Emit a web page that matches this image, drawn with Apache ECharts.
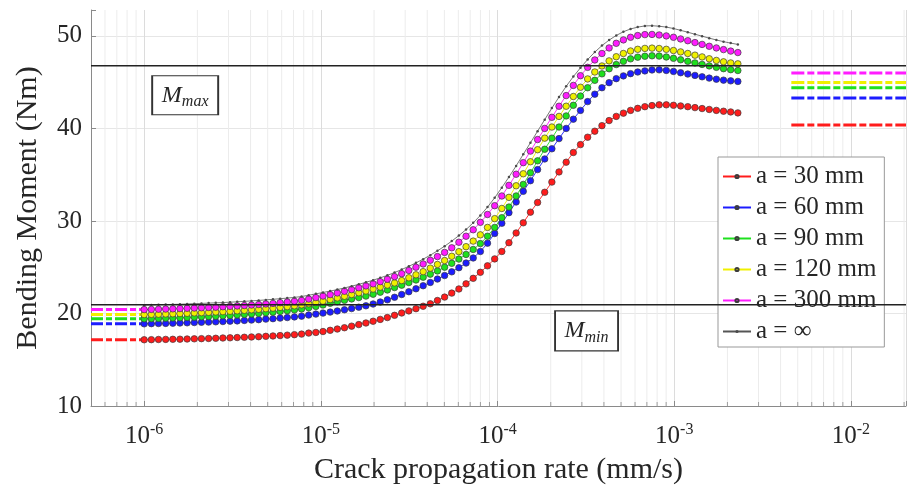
<!DOCTYPE html>
<html><head><meta charset="utf-8">
<script src="https://cdn.jsdelivr.net/npm/echarts@6/dist/echarts.min.js"></script>
<style>html,body{margin:0;padding:0;background:#fff}#c{width:915px;height:490px}</style>
</head><body><div id="c"></div>
<script>
// crack propagation rate (mm/s) of each computed point
const rates = [1.000e-6,1.098e-6,1.205e-6,1.323e-6,1.452e-6,1.594e-6,1.750e-6,1.921e-6,2.109e-6,2.315e-6,
2.541e-6,2.789e-6,3.062e-6,3.361e-6,3.689e-6,4.050e-6,4.445e-6,4.880e-6,5.356e-6,5.880e-6,
6.454e-6,7.085e-6,7.777e-6,8.533e-6,9.366e-6,1.028e-5,1.129e-5,1.239e-5,1.360e-5,1.493e-5,
1.639e-5,1.799e-5,1.975e-5,2.168e-5,2.379e-5,2.612e-5,2.867e-5,3.147e-5,3.454e-5,3.792e-5,
4.162e-5,4.569e-5,5.015e-5,5.505e-5,6.043e-5,6.633e-5,7.281e-5,7.993e-5,8.773e-5,9.630e-5,
1.057e-4,1.160e-4,1.274e-4,1.398e-4,1.535e-4,1.685e-4,1.849e-4,2.030e-4,2.228e-4,2.446e-4,
2.685e-4,2.947e-4,3.235e-4,3.551e-4,3.898e-4,4.279e-4,4.697e-4,5.156e-4,5.660e-4,6.213e-4,
6.820e-4,7.486e-4,8.217e-4,9.020e-4,9.901e-4,1.087e-3,1.193e-3,1.310e-3,1.438e-3,1.578e-3,
1.732e-3,1.901e-3,2.087e-3,2.291e-3];

const seriesNames = ['a = 30 mm','a = 60 mm','a = 90 mm','a = 120 mm','a = 300 mm','a = \u221E'];
const seriesColors = ['#ff1c1c','#1c1cff','#1ee01e','#f0f000','#ff1cff','#4a4a4a'];

const m30 = [17.16,17.17,17.19,17.2,17.21,17.22,17.24,17.26,17.28,17.3,17.32,17.35,17.37,17.4,17.43,17.46,17.49,17.53,17.57,17.61,17.66,17.71,17.77,
17.88,17.95,18.05,18.18,18.32,18.46,18.63,18.8,18.97,19.16,19.36,19.56,19.8,20.05,20.28,20.52,20.78,21.05,21.4,21.77,22.2,22.65,23.2,23.8,24.45,25.15,25.9,26.7,27.65,28.7,29.8,30.95,32.0,33.1,34.2,35.3,36.35,37.4,38.25,39.05,39.7,40.3,40.85,41.3,41.65,41.95,42.17,42.35,42.47,42.55,42.55,42.5,42.43,42.35,42.25,42.15,42.05,41.95,41.86,41.78,41.68];
const m60 = [18.88,18.9,18.92,18.93,18.95,18.97,18.99,19.02,19.05,19.07,19.1,19.13,19.17,19.2,19.25,19.29,19.33,19.39,19.44,19.5,19.56,19.63,19.71,
19.83,19.93,20.04,20.15,20.27,20.4,20.53,20.68,20.83,21.02,21.24,21.48,21.75,22.05,22.35,22.67,23.0,23.35,23.72,24.1,24.5,24.95,25.45,26.0,26.7,27.6,28.65,29.75,30.9,32.05,33.2,34.35,35.55,36.7,37.8,38.9,40.0,41.0,41.95,42.9,43.7,44.4,44.95,45.38,45.68,45.92,46.1,46.22,46.32,46.33,46.27,46.16,46.02,45.88,45.73,45.58,45.44,45.32,45.22,45.14,45.08];
const m90 = [19.42,19.44,19.47,19.49,19.51,19.53,19.57,19.6,19.64,19.67,19.7,19.75,19.79,19.84,19.9,19.95,20.01,20.08,20.14,20.22,20.3,20.39,20.49,
20.62,20.76,20.92,21.1,21.27,21.42,21.57,21.72,21.88,22.08,22.3,22.54,22.8,23.06,23.34,23.62,23.92,24.25,24.6,25.0,25.42,25.88,26.38,26.92,27.55,28.35,29.3,30.35,31.5,32.7,33.95,35.2,36.5,37.75,38.95,40.15,41.35,42.5,43.5,44.4,45.2,45.9,46.45,46.9,47.25,47.52,47.7,47.8,47.85,47.82,47.72,47.58,47.42,47.25,47.08,46.92,46.76,46.6,46.46,46.35,46.26];
const m120 = [19.88,19.9,19.92,19.95,19.97,19.99,20.02,20.06,20.09,20.12,20.16,20.2,20.24,20.29,20.34,20.4,20.45,20.52,20.58,20.66,20.74,20.83,20.93,
21.05,21.18,21.33,21.5,21.68,21.86,22.05,22.24,22.43,22.64,22.85,23.07,23.3,23.56,23.86,24.18,24.52,24.9,25.3,25.72,26.18,26.68,27.22,27.82,28.5,29.3,30.25,31.35,32.55,33.8,35.1,36.4,37.7,38.95,40.15,41.3,42.4,43.45,44.45,45.35,46.1,46.75,47.3,47.75,48.1,48.37,48.55,48.65,48.68,48.64,48.55,48.42,48.27,48.1,47.92,47.73,47.53,47.35,47.2,47.08,46.98];
const m300 = [20.42,20.44,20.46,20.48,20.5,20.53,20.56,20.59,20.62,20.65,20.68,20.73,20.77,20.81,20.86,20.91,20.97,21.03,21.09,21.17,21.24,21.32,21.42,
21.56,21.72,21.88,22.04,22.22,22.4,22.58,22.78,22.98,23.2,23.44,23.7,23.98,24.3,24.65,25.0,25.35,25.75,26.15,26.6,27.1,27.7,28.35,29.05,29.85,30.7,31.65,32.7,33.85,35.05,36.3,37.55,38.8,40.0,41.2,42.4,43.55,44.65,45.7,46.6,47.4,48.1,48.7,49.2,49.57,49.85,50.04,50.14,50.16,50.1,50.0,49.85,49.67,49.48,49.28,49.08,48.88,48.7,48.52,48.36,48.2];
const mInf = [20.9,20.92,20.94,20.96,20.98,21.0,21.03,21.06,21.09,21.12,21.15,21.18,21.22,21.26,21.31,21.36,21.41,21.47,21.53,21.6,21.66,21.74,21.83,
21.97,22.12,22.27,22.42,22.58,22.76,22.95,23.15,23.37,23.6,23.85,24.12,24.42,24.75,25.1,25.47,25.87,26.3,26.77,27.27,27.82,28.42,29.07,29.8,30.6,31.5,32.5,33.6,34.75,35.95,37.2,38.45,39.7,40.95,42.2,43.4,44.55,45.6,46.55,47.45,48.25,48.95,49.55,50.05,50.45,50.75,50.95,51.08,51.1,51.05,50.95,50.8,50.6,50.4,50.18,49.97,49.76,49.56,49.38,49.22,49.08];

// horizontal asymptote segments (left: slow-rate limit, right: fast-rate limit)
const leftDashRange = [5e-7, 1e-6];
const leftDashValues = [17.16, 18.88, 19.42, 19.88, 20.42];
const rightDashRange = [4.6e-3, 2.05e-2];
const rightDashValues = [40.38, 43.29, 44.40, 44.97, 45.98];

const mMax = 46.77, mMin = 20.93;
const xRange = [5e-7, 2.05e-2];
const yRange = [10, 52.8];
const yTickStep = 10;
const annotations = [{sub:'max', x:1.706e-6, y:43.59, w:66, h:39}, {sub:'min', x:3.19e-4, y:18.13, w:63, h:40}];

const F = '"Liberation Serif","Times New Roman",serif';
const TXT = '#262626';
const AX = '#8a8a8a';

const chart = echarts.init(document.getElementById('c'), null, {renderer:'canvas'});
const series = [];

// minor log grid lines (2..9 x 10^n) and minor ticks
const minorVals = [];
for (let e = -7; e <= -2; e++) for (let k = 2; k <= 9; k++) {
  const v = k * Math.pow(10, e);
  if (v > xRange[0] * 1.0001 && v < xRange[1]) minorVals.push(v);
}
const minorGridData = [];
minorVals.forEach(v => { minorGridData.push([v, yRange[0]], [v, yRange[1]], [v, '-']); });
series.push({type:'line', silent:true, z:0, symbol:'none', connectNulls:false, data: minorGridData,
  lineStyle:{color:'#ececec', width:1}});
series.push({
  type:'scatter', silent:true, z:1, data: minorVals.map(v => [v, yRange[0]]),
  symbol:'rect', symbolSize:[1,4], symbolOffset:[0,-2], itemStyle:{color:AX}
});

leftDashValues.forEach((v,k) => series.push({type:'line', silent:true, z:2, symbol:'none',
  data:[[leftDashRange[0], v],[leftDashRange[1], v]], lineStyle:{color:seriesColors[k], width:3, type:[12,3,6,3]}}));
rightDashValues.forEach((v,k) => series.push({type:'line', silent:true, z:2, symbol:'none',
  data:[[rightDashRange[0], v],[rightDashRange[1], v]], lineStyle:{color:seriesColors[k], width:3, type:[13,3,7,3]}}));

[m30,m60,m90,m120,m300,mInf].forEach((vals,k) => {
  const inf = k === 5;
  series.push({
    name: seriesNames[k], type:'line', silent:true, z:3,
    data: rates.map((r,i) => [r, vals[i]]),
    symbol:'circle', symbolSize: inf ? 2.5 : 6.5, showAllSymbol:true,
    itemStyle:{color: seriesColors[k], borderColor: inf ? seriesColors[k] : '#3c3c3c', borderWidth: inf ? 0 : 0.7},
    lineStyle:{color: inf ? '#555' : seriesColors[k], width: inf ? 0.8 : 0.9}
  });
});

function annot(a) {
  return {
    symbol:'rect', symbolSize:[a.w, a.h], silent:true, animation:false,
    itemStyle:{color:'#fff', borderColor:'#333', borderWidth:1.5},
    label:{show:true, position:'inside', formatter:'{M|M}{s|' + a.sub + '}',
      rich:{M:{fontFamily:F, fontStyle:'italic', fontSize:24, color:TXT},
            s:{fontFamily:F, fontStyle:'italic', fontSize:16, color:TXT, padding:[14,0,0,0]}}},
    data:[{coord:[a.x, a.y]}]
  };
}
series.push({type:'line', silent:true, z:4, symbol:'none', data:[[xRange[0], mMax],[xRange[1], mMax]],
  lineStyle:{color:'#222', width:1.5}, markPoint: annot(annotations[0])});
series.push({type:'line', silent:true, z:4, symbol:'none', data:[[xRange[0], mMin],[xRange[1], mMin]],
  lineStyle:{color:'#222', width:1.5}, markPoint: annot(annotations[1])});

chart.setOption({
  animation:false,
  backgroundColor:'#fff',
  grid:{left:91, top:10, right:9, bottom:82.5, containLabel:false},
  legend:{
    data: seriesNames, orient:'vertical', left:718, top:157, selectedMode:false,
    padding:[7,8,3,4], itemGap:6, itemWidth:28, itemHeight:4,
    backgroundColor:'#fff', borderColor:'#999', borderWidth:1,
    textStyle:{fontFamily:F, fontSize:25, color:TXT}
  },
  xAxis:{
    type:'log', logBase:10, min:xRange[0], max:xRange[1],
    axisLine:{show:true, onZero:false, lineStyle:{color:AX}},
    axisTick:{show:true, inside:true, length:5, lineStyle:{color:AX}},
    axisLabel:{
      margin:16,
      formatter: v => { const e = Math.log10(v), r = Math.round(e); return Math.abs(e - r) > 1e-6 ? '' : '{b|10}{e|' + r + '}'; },
      rich:{b:{fontFamily:F, fontSize:25, color:TXT}, e:{fontFamily:F, fontSize:16, color:TXT, padding:[0,0,12,0]}}
    },
    splitLine:{show:true, lineStyle:{color:'#dcdcdc'}},
    name:'Crack propagation rate (mm/s)', nameLocation:'middle', nameGap:49,
    nameTextStyle:{fontFamily:F, fontSize:30, color:TXT}
  },
  yAxis:{
    type:'value', min:yRange[0], max:yRange[1], interval:yTickStep,
    axisLine:{show:true, lineStyle:{color:AX}},
    axisTick:{show:true, inside:true, length:5, lineStyle:{color:AX}},
    axisLabel:{margin:9, fontFamily:F, fontSize:25, color:TXT,
      formatter: v => (Math.abs(v % yTickStep) < 1e-9 ? String(v) : '')},
    splitLine:{show:true, showMaxLine:false, lineStyle:{color:'#e6e6e6'}},
    name:'Bending Moment (Nm)', nameLocation:'middle', nameGap:48,
    nameTextStyle:{fontFamily:F, fontSize:30, color:TXT}
  },
  series: series
});
</script></body></html>
